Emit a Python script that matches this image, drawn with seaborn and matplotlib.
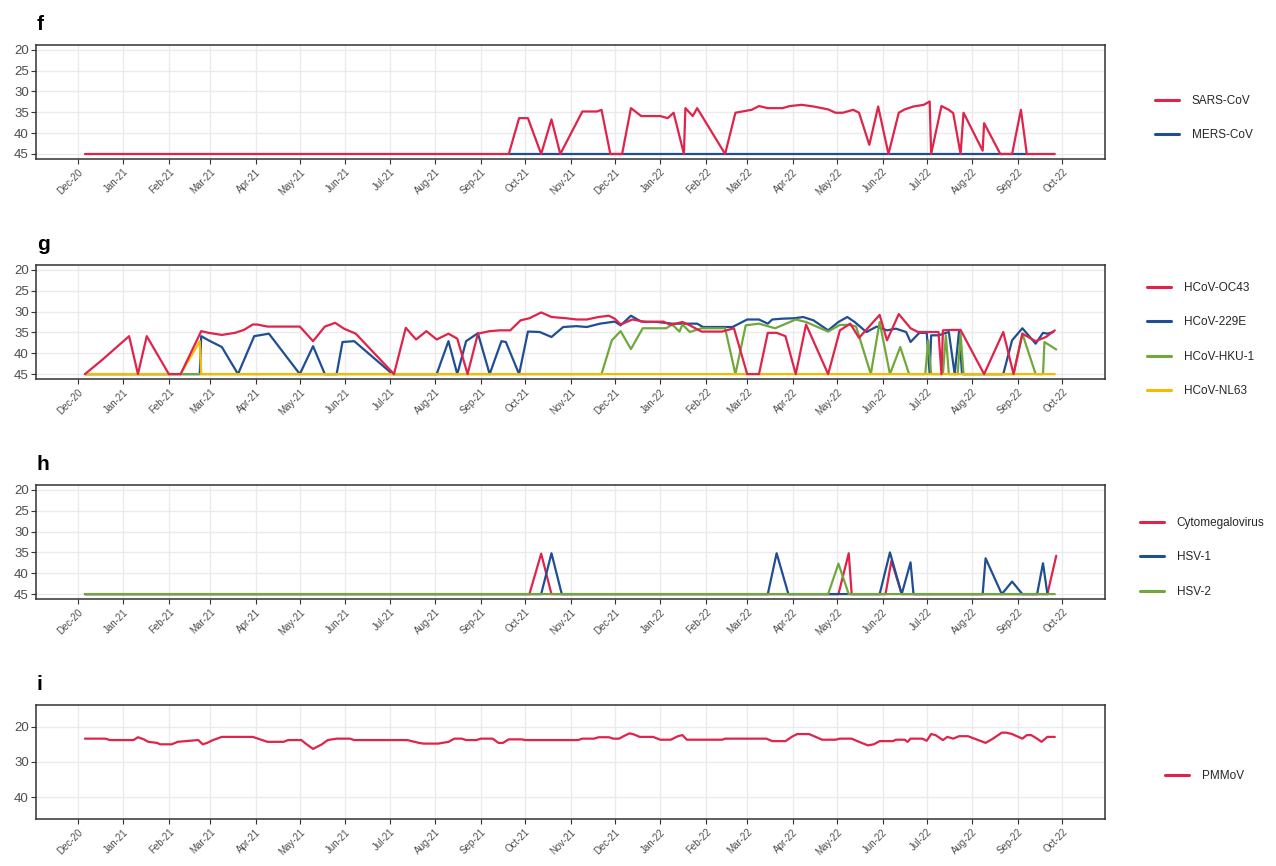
import matplotlib
matplotlib.use("Agg")
import matplotlib.pyplot as plt
import matplotlib.dates as mdates
from matplotlib.lines import Line2D
import pandas as pd
import seaborn as sns

# ---------------- data ----------------
# panel f
sars_dates = ["2020-12-06", "2021-09-20", "2021-09-27", "2021-10-03", "2021-10-12", "2021-10-19",
              "2021-10-25", "2021-11-09", "2021-11-19", "2021-11-22", "2021-11-28", "2021-12-06",
              "2021-12-12", "2021-12-19", "2022-01-01", "2022-01-06", "2022-01-10", "2022-01-17",
              "2022-01-18", "2022-01-23", "2022-01-26", "2022-02-14", "2022-02-21", "2022-03-04",
              "2022-03-09", "2022-03-15", "2022-03-25", "2022-03-30", "2022-04-07", "2022-04-15",
              "2022-04-25", "2022-04-30", "2022-05-05", "2022-05-12", "2022-05-16", "2022-05-23",
              "2022-05-29", "2022-06-05", "2022-06-12", "2022-06-16", "2022-06-22", "2022-06-29",
              "2022-07-03", "2022-07-04", "2022-07-11", "2022-07-16", "2022-07-19", "2022-07-24",
              "2022-07-26", "2022-08-08", "2022-08-09", "2022-08-20", "2022-08-28", "2022-09-03",
              "2022-09-07", "2022-09-26"]
sars_ct = [45, 45, 36.4, 36.4, 45, 36.7,
           45, 34.8, 34.8, 34.4, 45, 45,
           34.0, 35.9, 35.9, 36.4, 35.1, 45,
           34.0, 35.9, 34.0, 45, 35.1, 34.4,
           33.5, 34.0, 34.0, 33.5, 33.2, 33.6,
           34.3, 35.1, 35.1, 34.4, 35.1, 42.8,
           33.6, 45, 35.1, 34.3, 33.6, 33.2,
           32.4, 45, 33.5, 34.4, 35.2, 45,
           35.1, 44.2, 37.6, 45, 45, 34.4,
           45, 45]
mers_dates = ["2021-09-20", "2022-09-07"]
mers_ct = [45, 45]

# panel g
oc43_dates = ["2020-12-06", "2020-12-18", "2021-01-05", "2021-01-11", "2021-01-17", "2021-02-01",
              "2021-02-09", "2021-02-23", "2021-02-28", "2021-03-09", "2021-03-18", "2021-03-24",
              "2021-03-30", "2021-04-02", "2021-04-09", "2021-05-01", "2021-05-10", "2021-05-18",
              "2021-05-25", "2021-05-31", "2021-06-08", "2021-07-04", "2021-07-12", "2021-07-19",
              "2021-07-26", "2021-08-02", "2021-08-10", "2021-08-16", "2021-08-23", "2021-08-30",
              "2021-09-07", "2021-09-14", "2021-09-21", "2021-09-28", "2021-10-04", "2021-10-12",
              "2021-10-19", "2021-10-29", "2021-11-05", "2021-11-12", "2021-11-20", "2021-11-27",
              "2021-12-01", "2021-12-05", "2021-12-13", "2021-12-22", "2022-01-03", "2022-01-08",
              "2022-01-16", "2022-01-21", "2022-01-29", "2022-02-12", "2022-02-20", "2022-03-01",
              "2022-03-09", "2022-03-15", "2022-03-21", "2022-03-27", "2022-04-03", "2022-04-10",
              "2022-04-25", "2022-05-03", "2022-05-10", "2022-05-16", "2022-05-30", "2022-06-04",
              "2022-06-12", "2022-06-20", "2022-06-25", "2022-07-03", "2022-07-09", "2022-07-11",
              "2022-07-12", "2022-07-18", "2022-07-24", "2022-08-09", "2022-08-22", "2022-08-29",
              "2022-09-04", "2022-09-13", "2022-09-20", "2022-09-26"]
oc43_ct = [45, 41.5, 35.9, 45, 35.9, 45,
           45, 34.7, 35.1, 35.6, 35.1, 34.4,
           33.1, 33.1, 33.6, 33.6, 37.1, 33.6,
           32.7, 34.1, 35.3, 45, 33.9, 36.7,
           34.7, 36.7, 35.3, 36.5, 45, 35.3,
           34.7, 34.5, 34.5, 32.1, 31.6, 30.2,
           31.3, 31.6, 31.9, 31.9, 31.3, 31.0,
           31.7, 33.1, 31.9, 32.5, 32.4, 33.2,
           32.5, 33.3, 34.8, 34.8, 34.0, 45,
           45, 35.1, 35.1, 35.9, 45, 33.1,
           45, 34.5, 32.9, 36.3, 30.8, 36.9,
           30.6, 34.0, 34.9, 34.9, 34.9, 45,
           34.5, 34.4, 34.4, 45, 34.9, 45,
           35.3, 37.1, 36.1, 34.5]
e229_dates = ["2020-12-06", "2021-02-22", "2021-02-23", "2021-02-28", "2021-03-09", "2021-03-20",
              "2021-03-31", "2021-04-10", "2021-05-01", "2021-05-10", "2021-05-18", "2021-05-26",
              "2021-05-30", "2021-06-07", "2021-07-03", "2021-08-02", "2021-08-10", "2021-08-16",
              "2021-08-22", "2021-08-30", "2021-09-07", "2021-09-15", "2021-09-18", "2021-09-27",
              "2021-10-03", "2021-10-11", "2021-10-19", "2021-10-27", "2021-11-05", "2021-11-12",
              "2021-11-21", "2021-12-01", "2021-12-05", "2021-12-12", "2021-12-19", "2021-12-30",
              "2022-01-09", "2022-01-26", "2022-01-30", "2022-02-19", "2022-03-01", "2022-03-09",
              "2022-03-15", "2022-03-18", "2022-03-25", "2022-04-02", "2022-04-08", "2022-04-15",
              "2022-04-25", "2022-05-02", "2022-05-08", "2022-05-13", "2022-05-21", "2022-05-28",
              "2022-06-04", "2022-06-10", "2022-06-17", "2022-06-20", "2022-06-26", "2022-07-01",
              "2022-07-03", "2022-07-04", "2022-07-09", "2022-07-16", "2022-07-20", "2022-07-23",
              "2022-07-25", "2022-08-22", "2022-08-28", "2022-09-04", "2022-09-13", "2022-09-18",
              "2022-09-21", "2022-09-25"]
e229_ct = [45, 45, 35.9, 36.9, 38.5, 45,
           35.9, 35.3, 45, 38.3, 45, 45,
           37.3, 37.1, 45, 45, 37.1, 45,
           37.1, 35.2, 45, 37.1, 37.3, 45,
           34.8, 34.9, 36.1, 33.7, 33.5, 33.7,
           32.9, 32.4, 33.3, 31.0, 32.4, 32.5,
           32.9, 32.9, 33.7, 33.7, 31.9, 31.9,
           32.9, 31.9, 31.7, 31.6, 31.3, 32.1,
           34.5, 32.5, 31.3, 32.5, 34.9, 33.6,
           34.5, 34.1, 34.9, 37.3, 35.1, 35.1,
           45, 35.7, 35.7, 34.9, 45, 34.5,
           45, 45, 36.9, 34.0, 37.7, 35.1,
           35.3, 34.9]
hku1_dates = ["2020-12-06", "2021-11-22", "2021-11-29", "2021-12-05", "2021-12-12", "2021-12-20",
              "2022-01-05", "2022-01-09", "2022-01-14", "2022-01-16", "2022-01-21", "2022-01-29",
              "2022-02-14", "2022-02-21", "2022-02-28", "2022-03-09", "2022-03-20", "2022-04-03",
              "2022-04-10", "2022-04-25", "2022-05-03", "2022-05-10", "2022-05-14", "2022-05-24",
              "2022-05-30", "2022-06-06", "2022-06-13", "2022-06-19", "2022-06-30", "2022-07-02",
              "2022-07-04", "2022-07-12", "2022-07-14", "2022-07-16", "2022-07-22", "2022-07-24",
              "2022-07-26", "2022-08-29", "2022-09-04", "2022-09-13", "2022-09-18", "2022-09-19",
              "2022-09-27"]
hku1_ct = [45, 45, 36.9, 34.7, 39.0, 34.0,
           34.0, 33.1, 34.8, 33.1, 34.9, 34.0,
           34.0, 45, 33.3, 32.9, 34.0, 31.9,
           32.5, 34.8, 33.2, 33.2, 33.6, 45,
           32.5, 45, 38.5, 45, 45, 36.9,
           45, 45, 35.7, 45, 45, 35.3,
           45, 45, 35.3, 45, 45, 37.3,
           39.1]
nl63_dates = ["2020-12-06", "2021-02-09", "2021-02-22", "2021-02-23", "2022-09-26"]
nl63_ct = [45, 45, 37.1, 45, 45]

# panel h
cmv_dates = ["2020-12-06", "2021-10-04", "2021-10-12", "2021-10-19", "2022-05-02", "2022-05-09",
             "2022-05-11", "2022-06-03", "2022-06-07", "2022-06-14", "2022-09-21", "2022-09-27"]
cmv_ct = [45, 45, 35.3, 45, 45, 35.2,
          45, 45, 37.0, 45, 45, 35.8]
hsv1_dates = ["2020-12-06", "2021-10-12", "2021-10-19", "2021-10-26", "2022-03-15", "2022-03-21",
              "2022-03-29", "2022-05-30", "2022-06-06", "2022-06-14", "2022-06-20", "2022-06-22",
              "2022-08-08", "2022-08-10", "2022-08-21", "2022-08-28", "2022-09-04", "2022-09-14",
              "2022-09-18", "2022-09-21"]
hsv1_ct = [45, 45, 35.2, 45, 45, 35.2,
           45, 45, 35.0, 45, 37.4, 45,
           45, 36.4, 45, 42.0, 45, 45,
           37.6, 45]
hsv2_dates = ["2020-12-06", "2022-04-25", "2022-05-02", "2022-05-09", "2022-09-26"]
hsv2_ct = [45, 45, 37.7, 45, 45]

# panel i
pmmov_dates = ["2020-12-06", "2020-12-20", "2020-12-23", "2021-01-08", "2021-01-11", "2021-01-15",
               "2021-01-18", "2021-01-24", "2021-01-26", "2021-02-03", "2021-02-07", "2021-02-15",
               "2021-02-21", "2021-02-24", "2021-02-27", "2021-03-03", "2021-03-09", "2021-03-30",
               "2021-04-04", "2021-04-09", "2021-04-20", "2021-04-23", "2021-05-02", "2021-05-05",
               "2021-05-10", "2021-05-16", "2021-05-20", "2021-05-26", "2021-06-04", "2021-06-07",
               "2021-07-13", "2021-07-21", "2021-07-24", "2021-08-03", "2021-08-10", "2021-08-14",
               "2021-08-19", "2021-08-22", "2021-08-29", "2021-09-01", "2021-09-09", "2021-09-13",
               "2021-09-16", "2021-09-20", "2021-09-29", "2021-10-01", "2021-11-06", "2021-11-09",
               "2021-11-17", "2021-11-20", "2021-11-27", "2021-11-30", "2021-12-04", "2021-12-07",
               "2021-12-11", "2021-12-14", "2021-12-18", "2021-12-27", "2022-01-01", "2022-01-08",
               "2022-01-13", "2022-01-16", "2022-01-19", "2022-02-12", "2022-02-14", "2022-03-14",
               "2022-03-18", "2022-03-27", "2022-04-01", "2022-04-04", "2022-04-12", "2022-04-21",
               "2022-04-30", "2022-05-03", "2022-05-11", "2022-05-16", "2022-05-22", "2022-05-26",
               "2022-05-30", "2022-06-08", "2022-06-10", "2022-06-16", "2022-06-18", "2022-06-20",
               "2022-06-28", "2022-07-01", "2022-07-04", "2022-07-07", "2022-07-12", "2022-07-15",
               "2022-07-19", "2022-07-23", "2022-07-29", "2022-08-05", "2022-08-10", "2022-08-15",
               "2022-08-21", "2022-08-24", "2022-08-28", "2022-09-04", "2022-09-07", "2022-09-10",
               "2022-09-14", "2022-09-17", "2022-09-21", "2022-09-26"]
pmmov_ct = [23.4, 23.4, 23.8, 23.8, 23.0, 23.6,
            24.3, 24.6, 25.0, 25.0, 24.3, 24.0,
            23.8, 25.0, 24.6, 23.8, 22.9, 22.9,
            23.6, 24.3, 24.3, 23.8, 23.8, 24.8,
            26.3, 25.0, 23.8, 23.4, 23.4, 23.8,
            23.8, 24.6, 24.8, 24.8, 24.3, 23.4,
            23.4, 23.8, 23.8, 23.4, 23.4, 24.6,
            24.6, 23.6, 23.6, 23.8, 23.8, 23.4,
            23.4, 23.0, 23.0, 23.4, 23.4, 22.7,
            21.9, 22.2, 22.9, 22.9, 23.7, 23.7,
            22.7, 22.4, 23.7, 23.7, 23.4, 23.4,
            24.1, 24.1, 22.7, 22.1, 22.1, 23.7,
            23.7, 23.4, 23.4, 24.3, 25.3, 25.0,
            24.1, 24.1, 23.7, 23.7, 24.3, 23.4,
            23.4, 24.0, 22.1, 22.4, 23.8, 22.9,
            23.4, 22.7, 22.7, 23.8, 24.6, 23.4,
            21.7, 21.7, 22.1, 23.4, 22.4, 22.4,
            23.4, 24.3, 22.9, 22.9]

month_ticks = pd.date_range("2020-12-01", "2022-10-01", freq="MS")

# ---------------- style ----------------
sns.set_theme(style="white")
plt.rcParams["font.family"] = ["Liberation Sans", "DejaVu Sans"]

RED = "#E0234A"
BLUE = "#1F4E93"
GREEN = "#70A83B"
YELLOW = "#F7BA00"
TXT = "#4D4D4D"

fig = plt.figure(figsize=(12.76, 8.66), dpi=100)

L, W, H = 36.4 / 1276, (1104.8 - 36.4) / 1276, 114.6 / 866
tops = [44.6, 264.7, 484.7, 704.7]

# (label, dates, values, colour, zorder) in legend order
panels = [
    dict(tag="f", series=[("SARS-CoV", sars_dates, sars_ct, RED, 4),
                          ("MERS-CoV", mers_dates, mers_ct, BLUE, 3)],
         ylim=(46.25, 18.75), yticks=[20, 25, 30, 35, 40, 45],
         leg_x=1155, leg_y=118),
    dict(tag="g", series=[("HCoV-OC43", oc43_dates, oc43_ct, RED, 6),
                          ("HCoV-229E", e229_dates, e229_ct, BLUE, 3),
                          ("HCoV-HKU-1", hku1_dates, hku1_ct, GREEN, 4),
                          ("HCoV-NL63", nl63_dates, nl63_ct, YELLOW, 5)],
         ylim=(46.25, 18.75), yticks=[20, 25, 30, 35, 40, 45],
         leg_x=1147, leg_y=339.5),
    dict(tag="h", series=[("Cytomegalovirus", cmv_dates, cmv_ct, RED, 3),
                          ("HSV-1", hsv1_dates, hsv1_ct, BLUE, 4),
                          ("HSV-2", hsv2_dates, hsv2_ct, GREEN, 5)],
         ylim=(46.25, 18.75), yticks=[20, 25, 30, 35, 40, 45],
         leg_x=1140, leg_y=557.5),
    dict(tag="i", series=[("PMMoV", pmmov_dates, pmmov_ct, RED, 4)],
         ylim=(46.2, 13.8), yticks=[20, 30, 40],
         leg_x=1165, leg_y=776),
]

xmin = pd.Timestamp("2020-11-03")
xmax = pd.Timestamp("2022-10-30")

for p, top in zip(panels, tops):
    ax = fig.add_axes([L, 1 - (top + 114.6) / 866, W, H])
    handles, labels = [], []
    for name, d, v, col, z in p["series"]:
        df = pd.DataFrame({"date": pd.to_datetime(d), "ct": v})
        sns.lineplot(data=df, x="date", y="ct", color=col, linewidth=1.6,
                     estimator=None, ax=ax, zorder=z, legend=False)
        handles.append(Line2D([0], [0], color=col, lw=2.2))
        labels.append(name)
    ax.set_xlim(xmin, xmax)
    ax.set_ylim(*p["ylim"])
    ax.set_yticks(p["yticks"])
    ax.set_xticks(month_ticks)
    ax.xaxis.set_major_formatter(mdates.DateFormatter("%b-%y"))
    ax.set_xlabel("")
    ax.set_ylabel("")
    ax.grid(True, color="#EBEBEB", lw=1.0)
    ax.set_axisbelow(True)
    for s in ax.spines.values():
        s.set_color("#333333")
        s.set_linewidth(1.1)
    ax.tick_params(axis="both", direction="out", length=3.5, width=0.8,
                   color="#333333", labelcolor=TXT, bottom=True, left=True)
    ax.tick_params(axis="y", labelsize=9.5, pad=2)
    ax.tick_params(axis="x", labelsize=7, pad=2)
    for lab in ax.get_xticklabels():
        lab.set_rotation(45)
        lab.set_ha("right")
        lab.set_rotation_mode("anchor")

    fig.text(37 / 1276, 1 - (top - 14.5) / 866, p["tag"], fontsize=15,
             fontweight="bold", ha="left", va="baseline", color="black")

    fig.legend(handles, labels, loc="center left",
               bbox_to_anchor=(p["leg_x"] / 1276, 1 - p["leg_y"] / 866),
               bbox_transform=fig.transFigure, frameon=False, fontsize=8.5,
               handlelength=2.0, handletextpad=1.1, labelspacing=1.9,
               borderpad=0, borderaxespad=0)

fig.savefig("out.png", dpi=100)
